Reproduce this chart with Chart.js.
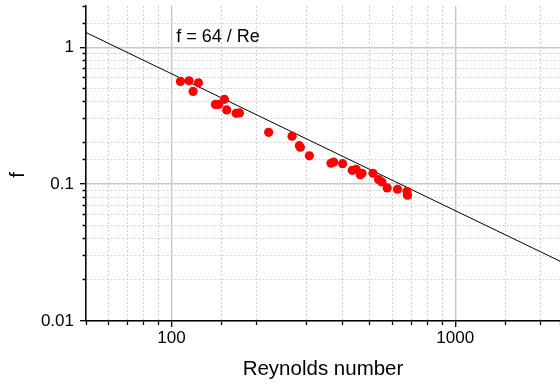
<!DOCTYPE html>
<html>
<head>
<meta charset="utf-8">
<script src="https://cdn.jsdelivr.net/npm/chart.js@4/dist/chart.umd.min.js"></script>
<style>
  html, body { margin: 0; padding: 0; background: #fff; }
  #wrap { width: 560px; height: 385px; }
</style>
</head>
<body>
<div id="wrap"><canvas id="chartFriction" width="560" height="385"></canvas></div>
<script>
// measured points (Reynolds number, friction factor)
const reynolds = [
  107.6, 115.4, 124.5, 119.2, 142.9, 146.7, 153.7, 156.6, 169.0, 173.6,
  220.1, 266.1, 282.3, 284.6, 306.2, 365.0, 372.9, 401.0, 433.7, 448.0,
  463.0, 469.4, 513.0, 537.0, 552.0, 576.0, 626.0, 676.0, 679.0,
];
const friction = [
  0.562, 0.569, 0.550, 0.475, 0.382, 0.382, 0.416, 0.348, 0.329, 0.331,
  0.239, 0.224, 0.191, 0.186, 0.161, 0.142, 0.145, 0.141, 0.126, 0.128,
  0.117, 0.120, 0.120, 0.108, 0.1036, 0.0937, 0.0917, 0.0887, 0.0829,
];

// laminar line f = 64 / Re, end points
const lineRe = [50, 2340];
const lineF = [1.28, 0.02735];

const xLabels = [100, 1000];
const yLabels = [0.01, 0.1, 1];
const fitLabel = "f = 64 / Re";

const textColor = "#000";
const majorGrid = "#c8c8c8";
const minorGrid = "#d2d2d2";
const font = "'Liberation Sans', Arial, sans-serif";

function isDecade(v) {
  const l = Math.log10(v);
  return Math.abs(l - Math.round(l)) < 1e-6;
}
function hasLabel(list, v) {
  return list.some((t) => Math.abs(t - v) / t < 1e-6);
}

const gridColor = (ctx) => {
  if (!ctx.tick) return majorGrid;
  const v = ctx.tick.value;
  if (ctx.scale.axis === "y" && v >= 2) return "rgba(0,0,0,0)";
  if (ctx.scale.axis === "x" && v > 2100) return "rgba(0,0,0,0)";
  return isDecade(v) ? majorGrid : minorGrid;
};
const gridWidth = (ctx) => (ctx.tick && isDecade(ctx.tick.value) ? 1.4 : 1);
const gridDash = (ctx) => {
  if (!ctx.tick || isDecade(ctx.tick.value)) return [];
  return [2, 2];
};

// no extra room for the (empty) first/last tick labels
function noEdgePadding(s) {
  s.paddingTop = 0;
  s.paddingBottom = 0;
  s.paddingLeft = 0;
  s.paddingRight = 0;
}

// label placed at top of plot
const labelPlugin = {
  id: "fitLabel",
  afterDatasetsDraw(chart) {
    const { ctx, scales } = chart;
    ctx.save();
    ctx.fillStyle = textColor;
    ctx.font = "18px " + font;
    ctx.textAlign = "left";
    ctx.textBaseline = "middle";
    ctx.fillText(fitLabel, scales.x.getPixelForValue(104), scales.y.getPixelForValue(1.19));
    ctx.restore();
  },
};

const points = reynolds.map((r, i) => ({ x: r, y: friction[i] }));
const linePts = lineRe.map((r, i) => ({ x: r, y: lineF[i] }));

new Chart(document.getElementById("chartFriction"), {
  type: "scatter",
  data: {
    datasets: [
      {
        label: "data",
        data: points,
        backgroundColor: "#ff0000",
        borderWidth: 0,
        pointRadius: 4.6,
        pointHoverRadius: 4.6,
      },
      {
        label: "64/Re",
        data: linePts,
        type: "line",
        showLine: true,
        borderColor: "#000",
        borderWidth: 1,
        pointRadius: 0,
        fill: false,
      },
    ],
  },
  options: {
    responsive: false,
    animation: false,
    layout: { autoPadding: false, padding: { top: 6, right: 0, left: 0, bottom: 0 } },
    plugins: {
      legend: { display: false },
      tooltip: { enabled: false },
    },
    scales: {
      x: {
        type: "logarithmic",
        position: "bottom",
        min: 50,
        max: 2340,
        afterFit: (s) => { s.height = 64; noEdgePadding(s); },
        border: { display: true, color: "#000", width: 1.5, dash: gridDash },
        grid: {
          color: gridColor,
          lineWidth: gridWidth,
          drawTicks: true,
          tickLength: 6,
          tickColor: "#000",
          tickWidth: 1.3,
          tickBorderDash: (ctx) => (ctx.tick && isDecade(ctx.tick.value) ? [] : [3.5, 100]),
        },
        ticks: {
          autoSkip: false,
          maxRotation: 0,
          color: textColor,
          font: { family: font, size: 17 },
          padding: 1,
          callback: (v) => (hasLabel(xLabels, v) ? String(v) : ""),
        },
        title: {
          display: true,
          text: "Reynolds number",
          color: textColor,
          font: { family: font, size: 20.5 },
          padding: { top: 0, bottom: 3 },
        },
      },
      y: {
        type: "logarithmic",
        position: "left",
        min: 0.01,
        max: 2,
        afterFit: (s) => { s.width = 86; noEdgePadding(s); },
        border: { display: true, color: "#000", width: 1.5, dash: gridDash },
        grid: {
          color: gridColor,
          lineWidth: gridWidth,
          drawTicks: true,
          tickLength: 6,
          tickColor: "#000",
          tickWidth: 1.3,
          tickBorderDash: (ctx) => (ctx.tick && isDecade(ctx.tick.value) ? [] : [0, 2.5, 3.5, 100]),
        },
        ticks: {
          autoSkip: false,
          color: textColor,
          font: { family: font, size: 17 },
          padding: 6,
          callback: (v) => (hasLabel(yLabels, v) ? String(v) : ""),
        },
        title: {
          display: true,
          // trailing spaces push the letter down to where the reference has it
          text: "f    ",
          color: textColor,
          font: { family: font, size: 20.5 },
          padding: { top: 6, bottom: 0 },
        },
      },
    },
  },
  plugins: [labelPlugin],
});
</script>
</body>
</html>
